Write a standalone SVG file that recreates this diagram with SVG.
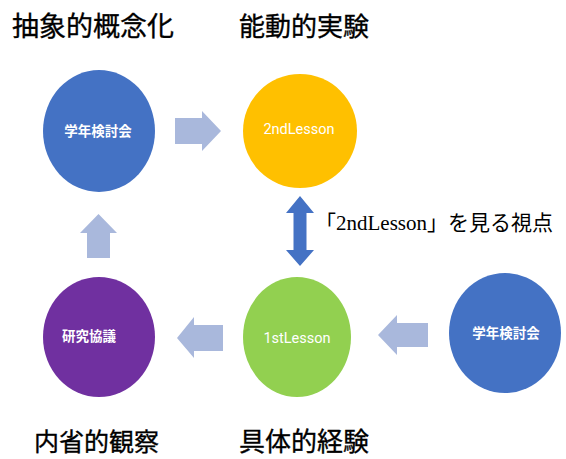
<svg xmlns="http://www.w3.org/2000/svg" width="566" height="459" viewBox="0 0 566 459">
<style>
.title{font-family:"Noto Sans CJK JP","Noto Sans",sans-serif;font-size:26px;fill:#000;stroke:#000;stroke-width:0.35}
.lbl{font-family:"Noto Sans CJK JP","Noto Sans",sans-serif;font-size:13.5px;fill:#fff;font-weight:bold;text-anchor:middle;dominant-baseline:central}
.lat{font-family:"Roboto","Noto Sans",sans-serif;font-size:14.5px;fill:#fff;text-anchor:middle;dominant-baseline:central}
.arw{fill:#A9B8DC}
</style>
<rect width="566" height="459" fill="#fff"/>
<text class="title" x="12" y="36" style="font-size:27px">抽象的概念化</text>
<text class="title" x="239" y="36">能動的実験</text>
<text class="title" x="34" y="451" style="font-size:25px">内省的観察</text>
<text class="title" x="239" y="451">具体的経験</text>
<text x="315" y="230" style="font-family:'Liberation Serif','Noto Sans CJK JP',serif;font-size:21px;fill:#000">「2ndLesson」を見る視点</text>
<g id="n-top-left">
<ellipse cx="99" cy="131" rx="56" ry="61" fill="#4472C4"/>
<text class="lbl" x="98" y="130">学年検討会</text>
</g>
<g id="n-2nd">
<ellipse cx="300" cy="131" rx="57" ry="57" fill="#FFC000"/>
<text class="lat" x="299" y="129">2ndLesson</text>
</g>
<g id="n-purple">
<ellipse cx="99" cy="337" rx="56" ry="60" fill="#7030A0"/>
<text class="lbl" x="89" y="335">研究協議</text>
</g>
<g id="n-1st">
<ellipse cx="297" cy="337" rx="54" ry="60" fill="#92D050"/>
<text class="lat" x="297" y="338">1stLesson</text>
</g>
<g id="n-right">
<ellipse cx="505" cy="333" rx="56" ry="60" fill="#4472C4"/>
<text class="lbl" x="506" y="332">学年検討会</text>
</g>
<g id="connectors">
<polygon class="arw" points="175,118 202,118 202,111 221,131 202,151 202,144 175,144"/>
<polygon class="arw" points="87,258 87,233 80,233 98.5,214 117,233 110,233 110,258"/>
<polygon class="arw" points="223,325 194,325 194,317 177,338 194,358 194,351 223,351"/>
<polygon class="arw" points="428,323 397,323 397,315 378,335 397,355 397,347 428,347"/>
<polygon fill="#4472C4" points="300,196 314,213 306.5,213 306.5,250 314,250 300,266 286,250 293.5,250 293.5,213 286,213"/>
</g>
</svg>
